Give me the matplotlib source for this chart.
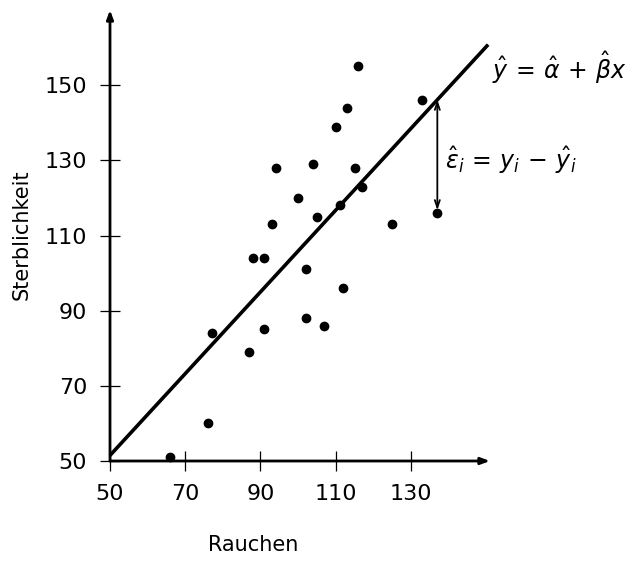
import matplotlib

matplotlib.use("Agg")
import matplotlib.pyplot as plt
import numpy as np

# smoking index vs. mortality index, 25 occupational groups
rauchen = [77, 137, 117, 94, 116, 102, 111, 93, 88, 102, 91, 104, 107,
           112, 113, 110, 125, 133, 115, 105, 87, 91, 100, 76, 66]
sterblichkeit = [84, 116, 123, 128, 155, 101, 118, 113, 104, 88, 104, 129, 86,
                 96, 144, 139, 113, 146, 128, 115, 79, 85, 120, 60, 51]
x_ticks = [50, 70, 90, 110, 130]
y_ticks = [50, 70, 90, 110, 130, 150]
line_x = [50, 150.5]
resid_x = 137  # the residual marked with an arrow

plt.rcParams.update({
    "font.family": "DejaVu Sans",
    "mathtext.fontset": "dejavusans",
    "font.size": 15,
})

x = np.array(rauchen, dtype=float)
y = np.array(sterblichkeit, dtype=float)
beta, alpha = np.polyfit(x, y, 1)

fig = plt.figure(figsize=(6.33, 5.65), dpi=100)
ax = fig.add_axes([110 / 633, 104 / 565, 380 / 633, 451 / 565])
ax.set_xlim(50, 151)
ax.set_ylim(50, 170)

for s in ax.spines.values():
    s.set_visible(False)

# axis lines with arrow heads
arrow = dict(arrowstyle="-|>,head_length=0.35,head_width=0.13", color="black", lw=2.0,
             shrinkA=0, shrinkB=0)
ax.annotate("", xy=(1, 0), xytext=(0, 0), xycoords="axes fraction", arrowprops=arrow)
ax.annotate("", xy=(0, 1), xytext=(0, 0), xycoords="axes fraction", arrowprops=arrow)

ax.set_xticks(x_ticks)
ax.set_yticks(y_ticks)
ax.tick_params(direction="inout", length=15, width=0.9, labelsize=16, pad=9)

ax.scatter(x, y, s=36, color="black", zorder=3, clip_on=False)

lx = np.array(line_x)
ax.plot(lx, alpha + beta * lx, color="black", lw=2.6, solid_capstyle="butt",
        zorder=2, clip_on=False)

# residual arrow
yi = y[x == resid_x][0]
ax.annotate("", xy=(resid_x, yi), xytext=(resid_x, alpha + beta * resid_x),
            arrowprops=dict(arrowstyle="<->,head_length=0.35,head_width=0.12",
                            color="black", lw=1.3, shrinkA=0, shrinkB=2))

ax.text(151.5, 154.5, r"$\hat{y}\,=\,\hat{\alpha}\,+\,\hat{\beta}x$", fontsize=17,
        va="center", ha="left")
ax.text(139, 130, r"$\hat{\epsilon}_i\,=\,y_i\,-\,\hat{y}_i$", fontsize=17,
        va="center", ha="left")

fig.text(253 / 633, 1 - 545 / 565, "Rauchen", ha="center", va="center", fontsize=15)
fig.text(22 / 633, 1 - 235 / 565, "Sterblichkeit", ha="center", va="center",
         rotation=90, fontsize=15)

fig.savefig("out.png", dpi=100)
